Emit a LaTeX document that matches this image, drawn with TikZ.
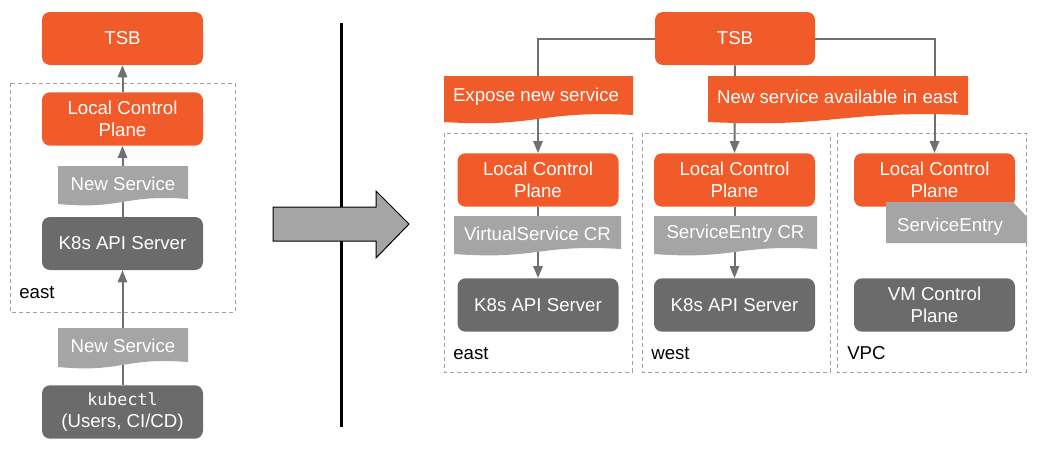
\documentclass[tikz,border=0pt]{standalone}
\usepackage{fontspec}
\setmainfont{Liberation Sans}
\newfontfamily\kubemono{DejaVu Sans Mono}
\usetikzlibrary{arrows.meta}
\definecolor{tsborange}{HTML}{F15A29}
\definecolor{darkbox}{HTML}{6B6B6B}
\definecolor{lightbox}{HTML}{A5A5A5}
\definecolor{conncol}{HTML}{707070}
\definecolor{dashcol}{HTML}{A0A0A0}
\newcommand\wavedoc[6]{\fill[#6] (#1,#3) -- (#2,#3) -- (#2,#5) .. controls ({(#1+#2)/2},{#5-5}) and ({(#1+#2)/2},{#4+6}) .. (#1,#4) -- cycle;}
\begin{document}
\begin{tikzpicture}[x=0.75pt,y=-0.75pt,
  box/.style={rounded corners=6pt, minimum width=120.75pt, minimum height=40pt, inner sep=0pt, align=center, text=white, font=\fontsize{14}{16.5}\selectfont},
  obox/.style={box, fill=tsborange},
  gbox/.style={box, fill=darkbox},
  wtext/.style={inner sep=0pt, text=white, font=\fontsize{14}{16.5}\selectfont},
  conn/.style={draw=conncol, line width=1.5pt, -{Triangle[length=9pt,width=7pt]}},
  zone/.style={draw=dashcol, line width=0.75pt, dash pattern=on 3pt off 2.25pt},
  zonelbl/.style={anchor=base west, inner sep=0pt, text=black, font=\fontsize{14}{16.5}\selectfont}
]
\useasboundingbox (0,0) rectangle (1052,450);

% zones
\draw[zone] (10,83) rectangle (235,312);
\draw[zone] (444,133) rectangle (632,372);
\draw[zone] (642,133) rectangle (830,372);
\draw[zone] (837,133) rectangle (1026,372);
\node[zonelbl] (zl) at (19,298) {east};
\node[zonelbl] (ze) at (453,359) {east};
\node[zonelbl] (zw) at (651,359) {west};
\node[zonelbl] (zv) at (847,359) {VPC};

% divider and big arrow
\draw[line width=2.25pt, black] (341,23) -- (341,427);
\draw[fill=lightbox, draw=black, line width=0.75pt] (273,207) -- (376,207) -- (376,191) -- (409,224) -- (376,258) -- (376,241) -- (273,241) -- cycle;

% left column
\node[obox, minimum height=39.75pt] (tsbL) at (122.5,38.5) {TSB};
\node[obox] (lcpL) at (122.5,119) {Local Control\\Plane};
\node[gbox, minimum height=39.75pt] (k8sL) at (122.5,243.5) {K8s API Server};
\node[gbox, minimum height=40pt] (kube) at (122.5,412) {{\kubemono\fontsize{12.5}{16.5}\selectfont kubectl}\\(Users, CI/CD)};

% right column
\node[obox, minimum width=120pt, minimum height=39.75pt] (tsbR) at (735,38.5) {TSB};
\node[obox] (lcpE) at (538,180) {Local Control\\Plane};
\node[obox] (lcpW) at (734.5,180) {Local Control\\Plane};
\node[obox] (lcpV) at (934.5,180) {Local Control\\Plane};
\node[gbox] (k8sE) at (538,305) {K8s API Server};
\node[gbox] (k8sW) at (734.5,305) {K8s API Server};
\node[gbox] (vmV) at (934.5,305) {VM Control\\Plane};

% connectors
\draw[conn] (lcpL.north) -- (tsbL.south);
\draw[conn] (k8sL.north) -- (lcpL.south);
\draw[conn] (kube.north) -- (k8sL.south);
\draw[conn] (tsbR.west) -| (lcpE.north);
\draw[conn] (tsbR.south) -- (lcpW.north);
\draw[conn] (tsbR.east) -| (lcpV.north);
\draw[conn] (lcpE.south) -- (k8sE.north);
\draw[conn] (lcpW.south) -- (k8sW.north);

% wave documents and banners
\wavedoc{58}{188}{166}{204}{199}{lightbox}
\node[wtext] (ns1) at (123,184) {New Service};
\wavedoc{58}{188}{328}{367}{362}{lightbox}
\node[wtext] (ns2) at (123,346) {New Service};
\wavedoc{444}{633}{76}{122}{115}{tsborange}
\node[wtext] (ban1) at (536,97) {Expose new service};
\wavedoc{708}{968}{76}{122}{115}{tsborange}
\node[wtext] (ban2) at (837.5,97) {New service available in east};
\wavedoc{454}{621}{216}{254}{249}{lightbox}
\node[wtext] (vscr) at (537.5,234) {VirtualService CR};
\wavedoc{654}{817}{216}{254}{249}{lightbox}
\node[wtext] (secr) at (735.5,234) {ServiceEntry CR};

% service entry card
\fill[lightbox] (886,202) -- (1013,202) -- (1027,217) -- (1027,243) -- (886,243) -- cycle;
\node[wtext] (sev) at (950,227) {ServiceEntry};
\end{tikzpicture}
\end{document}
